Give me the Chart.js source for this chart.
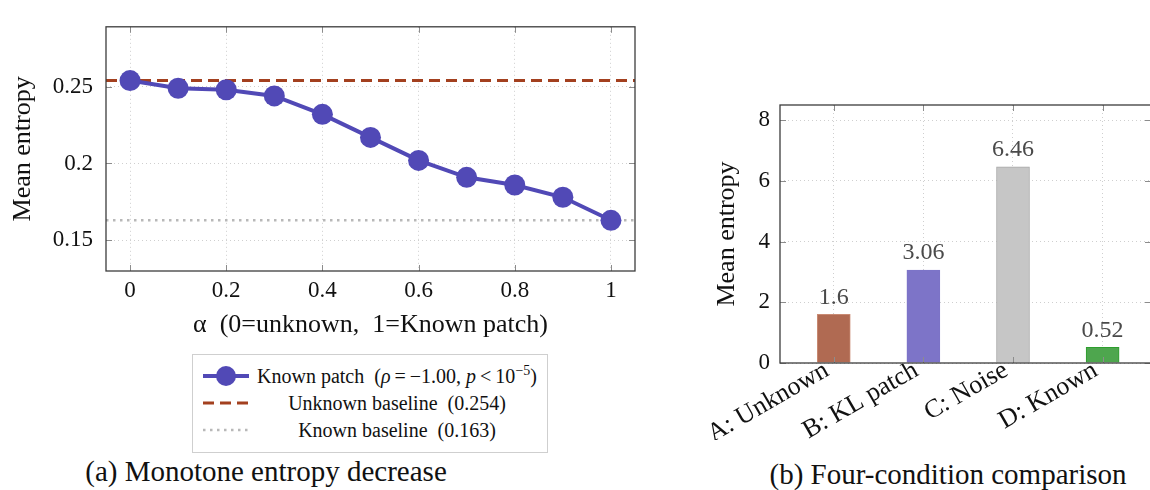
<!DOCTYPE html>
<html>
<head>
<meta charset="utf-8">
<script src="https://cdn.jsdelivr.net/npm/chart.js@4.4.0/dist/chart.umd.min.js"></script>
<style>
  html, body { margin: 0; padding: 0; background: #fff; overflow: hidden; width: 1150px; height: 490px; }
  body { position: relative; font-family: "Liberation Serif", serif; color: #111; }
  canvas { position: absolute; }
  #chartA { left: 0; top: 0; }
  #chartB { left: 680px; top: 0; }
  #legendA { position: absolute; left: 192px; top: 354px; width: 354px; height: 97px; border: 1px solid #cfcfcf; }
  .row { position: absolute; left: 0; width: 354px; height: 26px; }
  .row svg { position: absolute; left: 9px; top: 0; }
  .row span { position: absolute; left: 60px; width: 288px; text-align: center; font-size: 20px; line-height: 26px; white-space: nowrap; }
  .caption { position: absolute; font-size: 29px; line-height: 34px; text-align: center; white-space: nowrap; }
  i { font-style: italic; }
  sup { font-size: 14px; line-height: 0; vertical-align: 8px; }
</style>
</head>
<body>
<canvas id="chartA" width="650" height="345"></canvas>
<canvas id="chartB" width="472" height="440"></canvas>

<div id="legendA">
  <div class="row" style="top: 8px;">
    <svg width="48" height="26"><line x1="1" y1="13" x2="47" y2="13" stroke="#5149b6" stroke-width="4"/><circle cx="24" cy="13" r="10" fill="#5149b6"/></svg>
    <span>Known patch &nbsp;(<i>ρ</i>&thinsp;=&thinsp;−1.00, <i>p</i>&thinsp;&lt;&thinsp;10<sup>−5</sup>)</span>
  </div>
  <div class="row" style="top: 35px;">
    <svg width="48" height="26"><line x1="1" y1="13" x2="47" y2="13" stroke="#a3401f" stroke-width="3" stroke-dasharray="11 6"/></svg>
    <span>Unknown baseline &nbsp;(0.254)</span>
  </div>
  <div class="row" style="top: 62px;">
    <svg width="48" height="26"><line x1="1" y1="13" x2="47" y2="13" stroke="#b8b8b8" stroke-width="2.5" stroke-dasharray="2.5 4.5"/></svg>
    <span>Known baseline &nbsp;(0.163)</span>
  </div>
</div>

<div class="caption" style="left: 66px; width: 400px; top: 454px;">(a) Monotone entropy decrease</div>
<div class="caption" style="left: 748px; width: 400px; top: 457px;">(b) Four-condition comparison</div>

<script>
// Panel (a): entropy vs. mixing weight alpha
const alphaVals = [0, 0.1, 0.2, 0.3, 0.4, 0.5, 0.6, 0.7, 0.8, 0.9, 1];
const knownPatchEntropy = [0.254, 0.249, 0.248, 0.244, 0.232, 0.217, 0.202, 0.191, 0.186, 0.178, 0.163];
const unknownBaseline = 0.254;
const knownBaseline = 0.163;
const alphaTicks = [0, 0.2, 0.4, 0.6, 0.8, 1];
const entropyTicksA = [0.15, 0.2, 0.25];

// Panel (b): four conditions
const conditions = ['A: Unknown', 'B: KL patch', 'C: Noise', 'D: Known'];
const conditionEntropy = [1.6, 3.06, 6.46, 0.52];
const entropyTicksB = [0, 2, 4, 6, 8];

const FONT = 'Liberation Serif';
const GRID = '#cfcfcf';
const X_MIN = -0.05, X_MAX = 1.05;

// pgfplots-like frame with inward tick marks on all four sides
const frame = {
    id: 'frame',
    afterDatasetsDraw(chart) {
        const { ctx, chartArea: a, scales: { x, y } } = chart;
        ctx.save();
        ctx.strokeStyle = '#8c8c8c';
        ctx.lineWidth = 1;
        ctx.beginPath();
        x.ticks.forEach(t => {
            const px = Math.round(x.getPixelForValue(t.value)) + 0.5;
            ctx.moveTo(px, a.top); ctx.lineTo(px, a.top + 6);
            ctx.moveTo(px, a.bottom); ctx.lineTo(px, a.bottom - 6);
        });
        y.ticks.forEach(t => {
            const py = Math.round(y.getPixelForValue(t.value)) + 0.5;
            ctx.moveTo(a.left, py); ctx.lineTo(a.left + 6, py);
            ctx.moveTo(a.right, py); ctx.lineTo(a.right - 6, py);
        });
        ctx.stroke();
        ctx.strokeStyle = '#3c3c3c';
        ctx.lineWidth = 1.3;
        ctx.strokeRect(a.left, a.top, a.right - a.left, a.bottom - a.top);
        ctx.restore();
    }
};

const barValues = {
    id: 'barValues',
    afterDatasetsDraw(chart) {
        const { ctx } = chart;
        const meta = chart.getDatasetMeta(0);
        ctx.save();
        ctx.font = `24px "${FONT}"`;
        ctx.fillStyle = '#4a4a4a';
        ctx.textAlign = 'center';
        ctx.textBaseline = 'bottom';
        meta.data.forEach((bar, i) => {
            ctx.fillText(String(conditionEntropy[i]), bar.x, bar.y - 5);
        });
        ctx.restore();
    }
};

new Chart(document.getElementById('chartA'), {
    type: 'line',
    data: {
        datasets: [
            {
                label: 'Known patch',
                data: alphaVals.map((a, i) => ({ x: a, y: knownPatchEntropy[i] })),
                borderColor: '#5149b6',
                backgroundColor: '#5149b6',
                borderWidth: 4,
                pointRadius: 10.5,
                pointBorderWidth: 0,
                tension: 0
            },
            {
                label: 'Unknown baseline',
                data: [{ x: X_MIN, y: unknownBaseline }, { x: X_MAX, y: unknownBaseline }],
                borderColor: '#a3401f',
                borderWidth: 3,
                borderDash: [11, 6],
                pointRadius: 0
            },
            {
                label: 'Known baseline',
                data: [{ x: X_MIN, y: knownBaseline }, { x: X_MAX, y: knownBaseline }],
                borderColor: '#b8b8b8',
                borderWidth: 2.5,
                borderDash: [2.5, 4.5],
                pointRadius: 0
            }
        ]
    },
    options: {
        responsive: false,
        animation: false,
        events: [],
        layout: { padding: { top: 13, right: 15, left: 0, bottom: 0 } },
        plugins: { legend: { display: false }, tooltip: { enabled: false } },
        scales: {
            x: {
                type: 'linear',
                min: X_MIN,
                max: X_MAX,
                afterBuildTicks: s => { s.ticks = alphaTicks.map(v => ({ value: v })); },
                afterFit: s => { s.height = 74; },
                grid: { color: GRID, drawTicks: false },
                border: { display: false, dash: [1, 3] },
                ticks: { padding: 6, color: '#111', maxRotation: 0, font: { family: FONT, size: 23 }, callback: v => String(v) },
                title: { display: true, text: 'α  (0=unknown,  1=Known patch)', color: '#111', font: { family: FONT, size: 26 }, padding: { top: 0, bottom: 4 } }
            },
            y: {
                min: 0.13,
                max: 0.289,
                afterBuildTicks: s => { s.ticks = entropyTicksA.map(v => ({ value: v })); },
                afterFit: s => { s.width = 106; },
                grid: { color: GRID, drawTicks: false },
                border: { display: false, dash: [1, 3] },
                ticks: { padding: 13, color: '#111', font: { family: FONT, size: 23 }, callback: v => String(v) },
                title: { display: true, text: 'Mean entropy', color: '#111', font: { family: FONT, size: 26 }, padding: { top: 8, bottom: 0 } }
            }
        }
    },
    plugins: [frame]
});

new Chart(document.getElementById('chartB'), {
    type: 'bar',
    data: {
        datasets: [{
            label: 'Mean entropy',
            data: conditions.map((c, i) => ({ x: i, y: conditionEntropy[i] })),
            backgroundColor: ['#b06a52', '#7d74c8', '#c6c6c6', '#4ea64e'],
            borderColor: ['#c98a73', '#7d74c8', '#a9a9a9', '#2d9e2d'],
            borderWidth: 1,
            barThickness: 33
        }]
    },
    options: {
        responsive: false,
        animation: false,
        events: [],
        layout: { padding: { top: 105, right: 1, left: 0, bottom: 0 } },
        plugins: { legend: { display: false }, tooltip: { enabled: false } },
        scales: {
            x: {
                type: 'linear',
                min: -0.6,
                max: 3.54,
                offset: false,
                afterBuildTicks: s => { s.ticks = conditions.map((c, i) => ({ value: i })); },
                afterFit: s => { s.height = 77; },
                grid: { color: GRID, drawTicks: false, offset: false },
                border: { display: false, dash: [1, 3] },
                ticks: { padding: -8, labelOffset: -7, color: '#111', minRotation: 30, maxRotation: 30, font: { family: FONT, size: 26 }, callback: v => conditions[Math.round(v)] }
            },
            y: {
                min: 0,
                max: 8.5,
                afterBuildTicks: s => { s.ticks = entropyTicksB.map(v => ({ value: v })); },
                afterFit: s => { s.width = 100; },
                grid: { color: GRID, drawTicks: false },
                border: { display: false, dash: [1, 3] },
                ticks: { padding: 10, color: '#111', font: { family: FONT, size: 23 }, callback: v => String(v) },
                title: { display: true, text: 'Mean entropy', color: '#111', font: { family: FONT, size: 26 }, padding: { top: 32, bottom: 0 } }
            }
        }
    },
    plugins: [frame, barValues]
});
</script>
</body>
</html>
